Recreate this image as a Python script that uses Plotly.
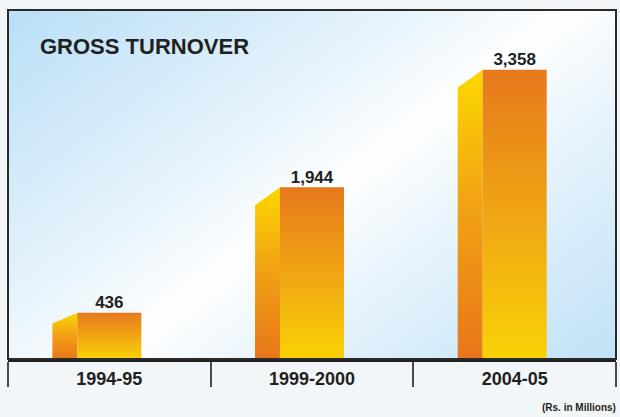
import base64, struct, zlib
import numpy as np
import plotly.graph_objects as go

# ---- data ----
categories = ["1994-95", "1999-2000", "2004-05"]
values = [436, 1944, 3358]
value_labels = ["436", "1,944", "3,358"]
title_text = "GROSS TURNOVER"
unit_note = "(Rs. in Millions)"

# ---- styling constants ----
W, H = 620, 417
ML, MR, MT, MB = 8, 4, 10, 58
Y_MIN, Y_MAX = -120, 4075
FRONT_HALF = 0.158
SIDE_W = 0.123
DEPTH = 216
FONT = "Liberation Sans, Arial, sans-serif"
TXT = "#231F20"

# ---- background gradient image (decoration) ----
pw, ph = W - ML - MR, H - MT - MB
yy, xx = np.mgrid[0:ph, 0:pw].astype(float)
xx += ML
yy += MT
d = 0.6 * (xx - 240) + 0.8 * (yy - 260)
t = np.clip(np.abs(d) / 330.0, 0, 1) ** 0.9
blue = np.array([188, 224, 247], float)
white = np.array([255, 255, 255], float)
img = (white[None, None, :] * (1 - t[..., None]) + blue[None, None, :] * t[..., None]).astype(np.uint8)


def png_bytes(arr):
    h, w, _ = arr.shape
    raw = b"".join(b"\x00" + arr[r].tobytes() for r in range(h))

    def chunk(tag, data):
        c = struct.pack(">I", len(data)) + tag + data
        return c + struct.pack(">I", zlib.crc32(tag + data) & 0xFFFFFFFF)

    return (b"\x89PNG\r\n\x1a\n" + chunk(b"IHDR", struct.pack(">IIBBBBB", w, h, 8, 2, 0, 0, 0))
            + chunk(b"IDAT", zlib.compress(raw, 9)) + chunk(b"IEND", b""))


bg_src = "data:image/png;base64," + base64.b64encode(png_bytes(img)).decode()

fig = go.Figure()

for i, v in enumerate(values):
    xl, xr = i - FRONT_HALF, i + FRONT_HALF
    depth = min(DEPTH, 0.23 * (v - Y_MIN))
    # side face
    fig.add_trace(go.Scatter(
        x=[xl - SIDE_W, xl - SIDE_W, xl, xl, xl - SIDE_W],
        y=[Y_MIN, v - depth, v, Y_MIN, Y_MIN],
        fill="toself", mode="lines", line=dict(width=0),
        fillgradient=dict(type="vertical",
                          colorscale=[[0, "#E8761A"], [0.55, "#F2A414"], [1, "#FDD800"]]),
        hoverinfo="skip", showlegend=False))
    # front face
    fig.add_trace(go.Scatter(
        x=[xl, xl, xr, xr, xl],
        y=[Y_MIN, v, v, Y_MIN, Y_MIN],
        fill="toself", mode="lines", line=dict(width=0),
        fillgradient=dict(type="vertical",
                          colorscale=[[0, "#F9D206"], [0.5, "#F0A514"], [1, "#E6791C"]]),
        hoverinfo="skip", showlegend=False))

fig.add_trace(go.Scatter(
    x=list(range(len(values))), y=values, mode="text", text=value_labels,
    textposition="top center",
    textfont=dict(family=FONT, size=17, color=TXT, weight="bold"),
    hoverinfo="skip", showlegend=False))

fig.update_layout(
    width=W, height=H,
    margin=dict(l=ML, r=MR, t=MT, b=MB, pad=0),
    paper_bgcolor="#F3F6F9",
    plot_bgcolor="rgba(0,0,0,0)",
    images=[dict(source=bg_src, xref="paper", yref="paper", x=0, y=1,
                 sizex=1, sizey=1, sizing="stretch", layer="below",
                 xanchor="left", yanchor="top")],
    xaxis=dict(range=[-0.5, 2.5], tickmode="array", tickvals=list(range(len(categories))),
               ticktext=categories, ticks="", showgrid=False, zeroline=False,
               showline=True, linecolor="#222222", linewidth=3,
               ticklabelstandoff=1,
               tickfont=dict(family=FONT, size=18, color=TXT, weight="bold"),
               minor=dict(tickmode="array", tickvals=[-0.5, 0.5, 1.5, 2.5], ticks="outside",
                          ticklen=25, tickwidth=1.5, tickcolor="#4A4A4A", showgrid=False),
               fixedrange=True),
    yaxis=dict(range=[Y_MIN, Y_MAX], showticklabels=False, showgrid=False,
               zeroline=False, ticks="", fixedrange=True),
    shapes=[dict(type="rect", xref="paper", yref="paper", x0=0, x1=1, y0=0, y1=1,
                 line=dict(color="#2A2A2A", width=2), layer="above")],
    annotations=[
        dict(text=title_text, xref="paper", yref="paper", x=0.049, y=0.894,
             xanchor="left", yanchor="middle", showarrow=False,
             font=dict(family=FONT, size=22, color=TXT, weight="bold")),
        dict(text=unit_note, xref="paper", yref="paper", x=1.003, y=-0.14,
             xanchor="right", yanchor="middle", showarrow=False,
             font=dict(family=FONT, size=10, color=TXT, weight="bold")),
    ],
)

fig.write_html("out.html", config={"displayModeBar": False},
               post_script="document.body.style.margin='0';document.body.style.overflow='hidden';")
